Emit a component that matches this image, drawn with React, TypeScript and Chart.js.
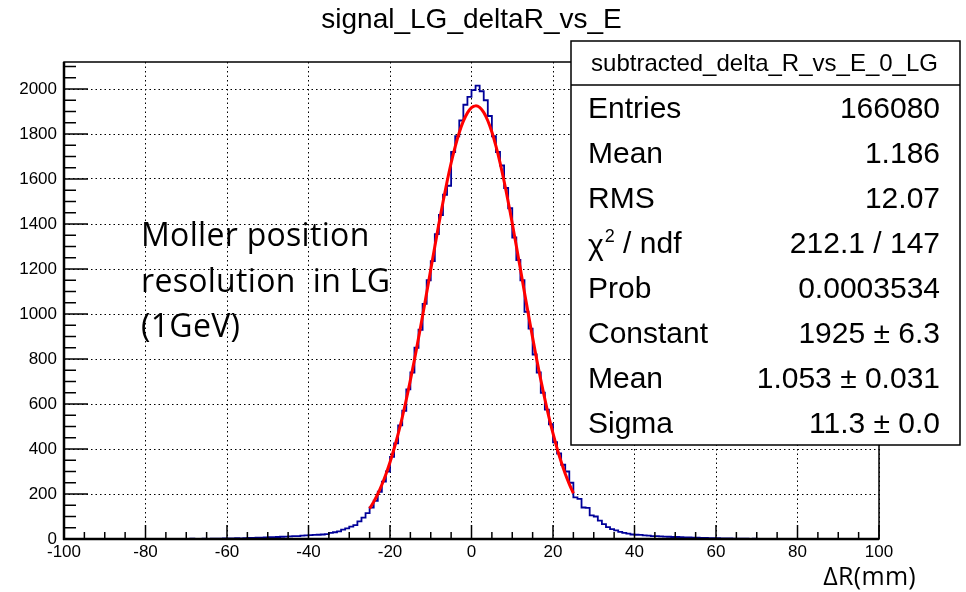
import React, { useEffect, useRef } from "react";
import { Chart, registerables } from "chart.js";

Chart.register(...registerables);

// ---------- data ----------
const chartTitle = "signal_LG_deltaR_vs_E";
const xAxisTitle = "ΔR(mm)";
const noteLines = ["Moller position", "resolution  in LG", "(1GeV)"];
const statsHeader = "subtracted_delta_R_vs_E_0_LG";
const statsLabels = ["Entries", "Mean", "RMS", "χ2 / ndf", "Prob", "Constant", "Mean", "Sigma"];
const statsValues = ["166080", "1.186", "12.07", "212.1 / 147", "0.0003534", "1925 ± 6.3", "1.053 ± 0.031", "11.3 ± 0.0"];

const xMin = -100;
const xMax = 100;
const yMax = 2120;

// histogram: bins of width 1 starting at -100 (lower edges -100 .. 99)
const histStart = -100;
const histBinWidth = 1;
const histCounts = [
  0, 0, 0, 1, 0, 0, 0, 1, 0, 0, 0, 0, 1, 0, 0, 1, 0, 0, 1, 0,
  1, 0, 1, 1, 0, 1, 1, 1, 0, 1, 1, 2, 1, 1, 2, 1, 2, 2, 2, 3,
  3, 3, 4, 3, 4, 5, 5, 6, 6, 7, 8, 8, 9, 10, 11, 12, 13, 13, 15, 16,
  17, 18, 19, 20, 22, 27, 30, 34, 42, 47, 55, 62, 78, 95, 115, 140, 170, 210, 255, 300,
  365, 425, 505, 570, 665, 740, 850, 930, 1045, 1150, 1235, 1355, 1440, 1530, 1570, 1720, 1790, 1860, 1930, 1965,
  1995, 2015, 1990, 1950, 1880, 1790, 1720, 1660, 1560, 1470, 1340, 1240, 1150, 1010, 935, 820, 740, 650, 575, 510,
  430, 380, 330, 300, 250, 185, 178, 140, 138, 105, 100, 82, 66, 53, 44, 38, 32, 27, 24, 20,
  19, 18, 16, 15, 13, 13, 12, 11, 10, 9, 9, 8, 7, 7, 6, 6, 5, 5, 4, 4,
  4, 3, 3, 3, 2, 2, 2, 2, 1, 2, 1, 1, 1, 1, 0, 1, 1, 0, 1, 0,
  0, 1, 0, 0, 1, 0, 0, 0, 0, 1, 0, 0, 0, 0, 0, 1, 0, 0, 0, 0,
];

// red fit curve, sampled every 1 unit from -25 to 25
const fitStart = -25;
const fitStep = 1;
const fitValues = [
  135, 165, 200, 241, 288, 341, 401, 467, 540, 620, 706, 797, 893, 992, 1094, 1198, 1300, 1401, 1497, 1588,
  1671, 1744, 1807, 1857, 1894, 1917, 1925, 1918, 1896, 1859, 1809, 1746, 1673, 1590, 1499, 1403, 1302, 1200,
  1096, 994, 895, 799, 708, 622, 542, 469, 403, 343, 290, 244, 203,
];

// ---------- styling ----------
const SANS = "'Liberation Sans', Arial, Helvetica, sans-serif";
const HUMANIST = "'Open Sans', Lato, sans-serif";

const rootStyle = {
  id: "rootStyle",
  afterDatasetsDraw(chart: any) {
    const { ctx, chartArea: a, scales } = chart;
    const x = scales.x;
    const y = scales.y;
    ctx.save();
    ctx.strokeStyle = "#000";
    const seg = (x1: number, y1: number, x2: number, y2: number) => {
      ctx.beginPath();
      ctx.moveTo(x1, y1);
      ctx.lineTo(x2, y2);
      ctx.stroke();
    };
    ctx.lineWidth = 1.5;
    for (let v = xMin; v <= xMax; v += 5) {
      const px = x.getPixelForValue(v);
      const len = v % 20 === 0 ? 14 : 7;
      seg(px, a.bottom, px, a.bottom - len);
    }
    for (let v = 0; v <= yMax; v += 50) {
      const py = y.getPixelForValue(v);
      const len = v % 200 === 0 ? 24 : 12;
      seg(a.left, py, a.left + len, py);
    }
    ctx.lineWidth = 1.5;
    ctx.strokeRect(a.left, a.top, a.right - a.left, a.bottom - a.top);
    ctx.lineWidth = 2.5;
    seg(a.left, a.top, a.left, a.bottom + 1);
    seg(a.left - 1, a.bottom, a.right, a.bottom);
    ctx.restore();
  },
  afterDraw(chart: any) {
    const { ctx, chartArea: a } = chart;
    ctx.save();
    ctx.fillStyle = "#000";
    ctx.font = `28px ${SANS}`;
    ctx.textAlign = "center";
    ctx.textBaseline = "middle";
    ctx.fillText(chartTitle, (a.left + a.right) / 2, 20);

    ctx.font = `32px ${HUMANIST}`;
    ctx.textAlign = "left";
    try { (ctx as any).letterSpacing = "0.3px"; } catch (e) {}
    noteLines.forEach((t, i) => ctx.fillText(t, 141, 237 + i * 45.5));

    ctx.font = `25px ${HUMANIST}`;
    ctx.textAlign = "right";
    ctx.fillText(xAxisTitle, 916, 578);
    try { (ctx as any).letterSpacing = "0px"; } catch (e) {}

    const bx = 571, by = 41, bw = 389, bh = 404;
    ctx.fillStyle = "#fff";
    ctx.fillRect(bx, by, bw, bh);
    ctx.strokeStyle = "#000";
    ctx.lineWidth = 1.5;
    ctx.strokeRect(bx, by, bw, bh);
    ctx.beginPath();
    ctx.moveTo(bx, 85);
    ctx.lineTo(bx + bw, 85);
    ctx.stroke();
    ctx.fillStyle = "#000";
    ctx.font = `24px ${SANS}`;
    ctx.textAlign = "center";
    ctx.fillText(statsHeader, bx + bw / 2 - 1, 64);

    ctx.font = `30px ${SANS}`;
    statsLabels.forEach((lab, i) => {
      const ry = 110 + i * 45;
      ctx.textAlign = "left";
      if (lab.startsWith("χ2")) {
        ctx.font = `30px ${SANS}`;
        ctx.fillText("χ", 588, ry + 2);
        const w = ctx.measureText("χ").width;
        ctx.font = `18px ${SANS}`;
        ctx.fillText("2", 588 + w + 1, ry - 8);
        const w2 = ctx.measureText("2").width;
        ctx.font = `30px ${SANS}`;
        ctx.fillText(lab.slice(2), 588 + w + w2 + 1, ry);
      } else {
        ctx.fillText(lab, 588, ry);
      }
      ctx.textAlign = "right";
      ctx.fillText(statsValues[i], 940, ry);
    });
    ctx.restore();
  },
};

export default function App() {
  const ref = useRef<HTMLCanvasElement | null>(null);

  useEffect(() => {
    if (!ref.current) return;
    const histPoints = histCounts.map((c, i) => ({ x: histStart + i * histBinWidth, y: c }));
    histPoints.push({ x: histStart + histCounts.length * histBinWidth, y: histCounts[histCounts.length - 1] });
    const fitPoints = fitValues.map((v, i) => ({ x: fitStart + i * fitStep, y: v }));

    const chart = new Chart(ref.current, {
      type: "line",
      data: {
        datasets: [
          {
            label: "fit",
            data: fitPoints,
            borderColor: "#ff0000",
            borderWidth: 3,
            pointRadius: 0,
            tension: 0.3,
            fill: false,
          },
          {
            label: "hist",
            data: histPoints,
            borderColor: "#000099",
            borderWidth: 1.8,
            pointRadius: 0,
            stepped: "before",
            fill: false,
          },
        ],
      },
      options: {
        animation: false,
        responsive: false,
        devicePixelRatio: 1,
        layout: { padding: { top: 62, right: 87, left: 0, bottom: 0 } },
        plugins: {
          legend: { display: false },
          tooltip: { enabled: false },
          title: { display: false },
        },
        scales: {
          x: {
            type: "linear",
            min: xMin,
            max: xMax,
            afterFit: (s: any) => {
              s.height = 53;
            },
            ticks: {
              stepSize: 20,
              color: "#000",
              font: { size: 17, family: SANS },
              padding: 3,
              maxRotation: 0,
              autoSkip: false,
              callback: (v: any) => String(v),
            },
            grid: { color: "#000", lineWidth: 1, drawTicks: false },
            border: { display: false, dash: [1.5, 3] },
          },
          y: {
            type: "linear",
            min: 0,
            max: yMax,
            afterFit: (s: any) => {
              s.width = 64;
            },
            afterBuildTicks: (s: any) => {
              s.ticks = s.ticks.filter((t: any) => t.value % 200 === 0);
            },
            ticks: {
              stepSize: 200,
              color: "#000",
              font: { size: 17, family: SANS },
              padding: 7,
              autoSkip: false,
              callback: (v: any) => String(v),
            },
            grid: { color: "#000", lineWidth: 1, drawTicks: false },
            border: { display: false, dash: [1.5, 3] },
          },
        },
      },
      plugins: [rootStyle],
    });
    return () => chart.destroy();
  }, []);

  return (
    <div style={{ position: "absolute", left: 0, top: 0, width: 966, height: 592, background: "#fff" }}>
      <canvas ref={ref} width={966} height={592} style={{ width: 966, height: 592, display: "block" }} />
    </div>
  );
}
